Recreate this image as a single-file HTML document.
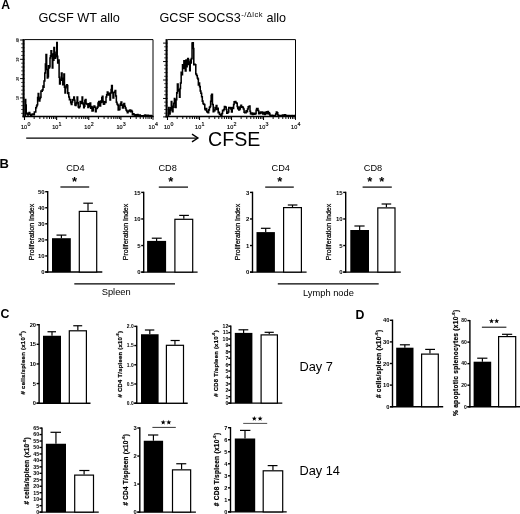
<!DOCTYPE html>
<html><head><meta charset="utf-8"><title>Figure</title>
<style>html,body{margin:0;padding:0;background:#fff;}svg{display:block;}text{font-family:"Liberation Sans",sans-serif;}</style></head>
<body>
<svg width="520" height="514" viewBox="0 0 520 514" font-family='"Liberation Sans", sans-serif' fill="#000">
<rect width="520" height="514" fill="#fff"/>
<defs><filter id="soft" x="0" y="0" width="100%" height="100%" filterUnits="userSpaceOnUse" color-interpolation-filters="sRGB"><feGaussianBlur stdDeviation="0.4"/></filter></defs>
<g filter="url(#soft)">
<rect width="520" height="514" fill="#fff"/>
<text x="1.2" y="9.2" font-size="12.2" font-weight="bold" text-anchor="start">A</text>
<text x="-0.6" y="168.1" font-size="13" font-weight="bold" text-anchor="start">B</text>
<text x="0.6" y="317.8" font-size="12.3" font-weight="bold" text-anchor="start">C</text>
<text x="355.4" y="319" font-size="12.3" font-weight="bold" text-anchor="start">D</text>
<text x="38.4" y="21.7" font-size="12.7" font-weight="normal" text-anchor="start">GCSF WT allo</text>
<text x="159.5" y="21.7" font-size="12.6">GCSF SOCS3<tspan dy="-5" dx="0.6" font-size="7.6" letter-spacing="0.45">-/&#916;lck</tspan><tspan dy="5" font-size="12.6"> allo</tspan></text>
<line x1="23.60" y1="39.10" x2="23.60" y2="117.30" stroke="#000" stroke-width="2.1"/>
<line x1="24.50" y1="39.60" x2="153.00" y2="39.60" stroke="#000" stroke-width="1.0"/>
<line x1="153.00" y1="39.60" x2="153.00" y2="117.00" stroke="#000" stroke-width="1.0"/>
<line x1="22.50" y1="116.50" x2="153.50" y2="116.50" stroke="#000" stroke-width="1.5"/>
<line x1="20.10" y1="40.00" x2="24.50" y2="40.00" stroke="#000" stroke-width="1.0"/>
<text x="19.30" y="40.20" font-size="3.6" font-weight="bold" text-anchor="middle" transform="rotate(-90 19.30 40.20)">40</text>
<line x1="21.10" y1="43.86" x2="24.50" y2="43.86" stroke="#000" stroke-width="0.7"/>
<line x1="21.10" y1="47.72" x2="24.50" y2="47.72" stroke="#000" stroke-width="0.7"/>
<line x1="21.10" y1="51.58" x2="24.50" y2="51.58" stroke="#000" stroke-width="0.7"/>
<line x1="21.10" y1="55.44" x2="24.50" y2="55.44" stroke="#000" stroke-width="0.7"/>
<line x1="20.10" y1="59.30" x2="24.50" y2="59.30" stroke="#000" stroke-width="1.0"/>
<text x="19.30" y="59.50" font-size="3.6" font-weight="bold" text-anchor="middle" transform="rotate(-90 19.30 59.50)">30</text>
<line x1="21.10" y1="63.16" x2="24.50" y2="63.16" stroke="#000" stroke-width="0.7"/>
<line x1="21.10" y1="67.02" x2="24.50" y2="67.02" stroke="#000" stroke-width="0.7"/>
<line x1="21.10" y1="70.88" x2="24.50" y2="70.88" stroke="#000" stroke-width="0.7"/>
<line x1="21.10" y1="74.74" x2="24.50" y2="74.74" stroke="#000" stroke-width="0.7"/>
<line x1="20.10" y1="78.60" x2="24.50" y2="78.60" stroke="#000" stroke-width="1.0"/>
<text x="19.30" y="78.80" font-size="3.6" font-weight="bold" text-anchor="middle" transform="rotate(-90 19.30 78.80)">20</text>
<line x1="21.10" y1="82.46" x2="24.50" y2="82.46" stroke="#000" stroke-width="0.7"/>
<line x1="21.10" y1="86.32" x2="24.50" y2="86.32" stroke="#000" stroke-width="0.7"/>
<line x1="21.10" y1="90.18" x2="24.50" y2="90.18" stroke="#000" stroke-width="0.7"/>
<line x1="21.10" y1="94.04" x2="24.50" y2="94.04" stroke="#000" stroke-width="0.7"/>
<line x1="20.10" y1="97.90" x2="24.50" y2="97.90" stroke="#000" stroke-width="1.0"/>
<text x="19.30" y="98.10" font-size="3.6" font-weight="bold" text-anchor="middle" transform="rotate(-90 19.30 98.10)">10</text>
<line x1="21.10" y1="101.76" x2="24.50" y2="101.76" stroke="#000" stroke-width="0.7"/>
<line x1="21.10" y1="105.62" x2="24.50" y2="105.62" stroke="#000" stroke-width="0.7"/>
<line x1="21.10" y1="109.48" x2="24.50" y2="109.48" stroke="#000" stroke-width="0.7"/>
<line x1="21.10" y1="113.34" x2="24.50" y2="113.34" stroke="#000" stroke-width="0.7"/>
<line x1="24.50" y1="116.50" x2="24.50" y2="120.00" stroke="#000" stroke-width="1.1"/>
<line x1="34.17" y1="116.50" x2="34.17" y2="119.00" stroke="#000" stroke-width="0.95"/>
<line x1="39.83" y1="116.50" x2="39.83" y2="119.00" stroke="#000" stroke-width="0.95"/>
<line x1="43.84" y1="116.50" x2="43.84" y2="119.00" stroke="#000" stroke-width="0.95"/>
<line x1="46.95" y1="116.50" x2="46.95" y2="119.00" stroke="#000" stroke-width="0.95"/>
<line x1="49.50" y1="116.50" x2="49.50" y2="119.00" stroke="#000" stroke-width="0.95"/>
<line x1="51.65" y1="116.50" x2="51.65" y2="119.00" stroke="#000" stroke-width="0.95"/>
<line x1="53.51" y1="116.50" x2="53.51" y2="119.00" stroke="#000" stroke-width="0.95"/>
<line x1="55.16" y1="116.50" x2="55.16" y2="119.00" stroke="#000" stroke-width="0.95"/>
<line x1="56.62" y1="116.50" x2="56.62" y2="120.00" stroke="#000" stroke-width="1.1"/>
<line x1="66.30" y1="116.50" x2="66.30" y2="119.00" stroke="#000" stroke-width="0.95"/>
<line x1="71.95" y1="116.50" x2="71.95" y2="119.00" stroke="#000" stroke-width="0.95"/>
<line x1="75.97" y1="116.50" x2="75.97" y2="119.00" stroke="#000" stroke-width="0.95"/>
<line x1="79.08" y1="116.50" x2="79.08" y2="119.00" stroke="#000" stroke-width="0.95"/>
<line x1="81.62" y1="116.50" x2="81.62" y2="119.00" stroke="#000" stroke-width="0.95"/>
<line x1="83.77" y1="116.50" x2="83.77" y2="119.00" stroke="#000" stroke-width="0.95"/>
<line x1="85.64" y1="116.50" x2="85.64" y2="119.00" stroke="#000" stroke-width="0.95"/>
<line x1="87.28" y1="116.50" x2="87.28" y2="119.00" stroke="#000" stroke-width="0.95"/>
<line x1="88.75" y1="116.50" x2="88.75" y2="120.00" stroke="#000" stroke-width="1.1"/>
<line x1="98.42" y1="116.50" x2="98.42" y2="119.00" stroke="#000" stroke-width="0.95"/>
<line x1="104.08" y1="116.50" x2="104.08" y2="119.00" stroke="#000" stroke-width="0.95"/>
<line x1="108.09" y1="116.50" x2="108.09" y2="119.00" stroke="#000" stroke-width="0.95"/>
<line x1="111.20" y1="116.50" x2="111.20" y2="119.00" stroke="#000" stroke-width="0.95"/>
<line x1="113.75" y1="116.50" x2="113.75" y2="119.00" stroke="#000" stroke-width="0.95"/>
<line x1="115.90" y1="116.50" x2="115.90" y2="119.00" stroke="#000" stroke-width="0.95"/>
<line x1="117.76" y1="116.50" x2="117.76" y2="119.00" stroke="#000" stroke-width="0.95"/>
<line x1="119.41" y1="116.50" x2="119.41" y2="119.00" stroke="#000" stroke-width="0.95"/>
<line x1="120.88" y1="116.50" x2="120.88" y2="120.00" stroke="#000" stroke-width="1.1"/>
<line x1="130.55" y1="116.50" x2="130.55" y2="119.00" stroke="#000" stroke-width="0.95"/>
<line x1="136.20" y1="116.50" x2="136.20" y2="119.00" stroke="#000" stroke-width="0.95"/>
<line x1="140.22" y1="116.50" x2="140.22" y2="119.00" stroke="#000" stroke-width="0.95"/>
<line x1="143.33" y1="116.50" x2="143.33" y2="119.00" stroke="#000" stroke-width="0.95"/>
<line x1="145.87" y1="116.50" x2="145.87" y2="119.00" stroke="#000" stroke-width="0.95"/>
<line x1="148.02" y1="116.50" x2="148.02" y2="119.00" stroke="#000" stroke-width="0.95"/>
<line x1="149.89" y1="116.50" x2="149.89" y2="119.00" stroke="#000" stroke-width="0.95"/>
<line x1="151.53" y1="116.50" x2="151.53" y2="119.00" stroke="#000" stroke-width="0.95"/>
<line x1="153.00" y1="116.50" x2="153.00" y2="119.90" stroke="#000" stroke-width="1.0"/>
<text x="21.00" y="129.00" font-size="5.5" stroke="#000" stroke-width="0.15">10<tspan dy="-2.7" dx="0.25" font-size="5.3">0</tspan></text>
<text x="52.23" y="129.00" font-size="5.5" stroke="#000" stroke-width="0.15">10<tspan dy="-2.7" dx="0.25" font-size="5.3">1</tspan></text>
<text x="84.35" y="129.00" font-size="5.5" stroke="#000" stroke-width="0.15">10<tspan dy="-2.7" dx="0.25" font-size="5.3">2</tspan></text>
<text x="116.47" y="129.00" font-size="5.5" stroke="#000" stroke-width="0.15">10<tspan dy="-2.7" dx="0.25" font-size="5.3">3</tspan></text>
<text x="148.60" y="129.00" font-size="5.5" stroke="#000" stroke-width="0.15">10<tspan dy="-2.7" dx="0.25" font-size="5.3">4</tspan></text>
<path d="M25.20,116.00H25.20V99.50H25.70V104.94H26.20V113.00H26.85V114.07H27.50V115.00H28.25V113.55H29.00V112.50H29.75V114.15H30.50V115.50H31.12V115.40H31.75V114.45H32.38V114.11H33.00V114.50H33.67V114.80H34.33V111.98H35.00V112.00H35.75V107.84H36.50V106.00H37.07V104.79H37.63V97.46H38.20V93.50H38.75V99.59H39.30V101.00H39.85V98.42H40.40V97.15H40.95V91.02H41.50V91.30H42.25V89.85H43.00V86.00H43.50V87.18H44.00V81.00H44.80V73.00H45.40V64.08H46.00V54.50H46.65V69.58H47.30V78.00H47.87V76.71H48.43V65.81H49.00V68.00H49.50V66.75H50.00V58.00H50.50V55.84H51.00V50.70H51.65V56.31H52.30V68.00H52.83V54.14H53.37V60.27H53.90V47.40H54.50V52.34H55.10V58.20H55.67V56.66H56.23V54.56H56.80V42.60H57.25V56.39H57.70V63.00H58.60V60.00H59.10V77.27H59.60V84.00H60.20V79.21H60.80V80.13H61.40V73.00H62.05V78.24H62.70V84.70H63.30V84.10H63.90V74.00H64.45V87.29H65.00V93.00H65.55V87.78H66.10V86.07H66.65V84.79H67.20V85.50H67.73V93.39H68.27V92.66H68.80V97.00H69.42V99.71H70.05V99.52H70.67V102.67H71.30V104.50H71.92V101.96H72.55V99.83H73.17V99.44H73.80V97.00H74.37V100.34H74.93V104.94H75.50V105.40H76.03V103.65H76.57V102.55H77.10V97.00H77.67V102.82H78.23V106.87H78.80V107.80H79.46V106.52H80.12V101.59H80.78V103.51H81.44V102.20H82.10V97.00H82.63V103.12H83.17V104.58H83.70V107.80H84.27V106.19H84.83V100.64H85.40V99.60H86.03V103.57H86.65V103.96H87.28V104.42H87.90V107.50H88.60V103.80H89.30V106.40H90.00V103.00H90.67V108.17H91.33V106.47H92.00V111.00H92.67V110.63H93.33V107.25H94.00V106.00H94.75V107.25H95.50V111.60H96.12V108.57H96.75V108.58H97.38V107.10H98.00V103.00H98.67V101.50H99.33V105.60H100.00V106.00H100.60V101.04H101.20V102.48H101.80V97.60H102.40V96.30H102.93V101.39H103.47V104.34H104.00V104.00H104.67V101.70H105.33V102.58H106.00V97.00H106.65V94.70H107.30V92.01H107.95V94.99H108.60V93.30H109.30V93.32H110.00V100.00H110.53V92.92H111.07V89.55H111.60V85.50H112.30V92.65H113.00V98.00H113.75V92.43H114.50V92.00H115.10V90.48H115.70V96.00H116.35V102.34H117.00V104.00H117.60V104.92H118.20V109.87H118.80V109.60H119.35V109.55H119.90V105.18H120.45V103.68H121.00V102.00H121.75V105.11H122.50V108.00H123.20V106.48H123.90V103.50H124.60V106.16H125.30V108.11H126.00V110.00H126.67V110.99H127.33V112.74H128.00V111.50H128.67V111.03H129.33V110.22H130.00V110.00H130.60V111.62H131.20V110.47H131.80V111.49H132.40V114.64H133.00V113.70H133.67V114.33H134.33V114.96H135.00V115.50H135.60V114.83H136.20V115.20H136.80V115.30H137.40V114.50H138.00V115.00H138.57V115.29H139.14V115.44H139.71V114.91H140.29V115.72H140.86V115.68H141.43V116.05H142.00V116.00H142.62V115.77H143.25V116.07H143.88V116.04H144.50V115.17H145.12V115.13H145.75V115.75H146.38V116.01H147.00V115.40H147.61V115.18H148.22V115.48H148.83V115.70H149.44V115.47H150.06V115.58H150.67V115.60H151.28V115.73H151.89V116.03H152.50V116.00" fill="none" stroke="#000" stroke-width="1.55" stroke-linejoin="miter" stroke-miterlimit="3"/>
<line x1="166.60" y1="39.10" x2="166.60" y2="117.30" stroke="#000" stroke-width="2.1"/>
<line x1="167.50" y1="39.60" x2="295.50" y2="39.60" stroke="#000" stroke-width="1.0"/>
<line x1="295.50" y1="39.60" x2="295.50" y2="117.00" stroke="#000" stroke-width="1.0"/>
<line x1="165.50" y1="116.50" x2="296.00" y2="116.50" stroke="#000" stroke-width="1.5"/>
<line x1="163.10" y1="43.10" x2="167.50" y2="43.10" stroke="#000" stroke-width="1.0"/>
<line x1="164.10" y1="46.79" x2="167.50" y2="46.79" stroke="#000" stroke-width="0.7"/>
<line x1="164.10" y1="50.48" x2="167.50" y2="50.48" stroke="#000" stroke-width="0.7"/>
<line x1="164.10" y1="54.17" x2="167.50" y2="54.17" stroke="#000" stroke-width="0.7"/>
<line x1="164.10" y1="57.86" x2="167.50" y2="57.86" stroke="#000" stroke-width="0.7"/>
<line x1="163.10" y1="61.55" x2="167.50" y2="61.55" stroke="#000" stroke-width="1.0"/>
<line x1="164.10" y1="65.24" x2="167.50" y2="65.24" stroke="#000" stroke-width="0.7"/>
<line x1="164.10" y1="68.93" x2="167.50" y2="68.93" stroke="#000" stroke-width="0.7"/>
<line x1="164.10" y1="72.62" x2="167.50" y2="72.62" stroke="#000" stroke-width="0.7"/>
<line x1="164.10" y1="76.31" x2="167.50" y2="76.31" stroke="#000" stroke-width="0.7"/>
<line x1="163.10" y1="80.00" x2="167.50" y2="80.00" stroke="#000" stroke-width="1.0"/>
<line x1="164.10" y1="83.69" x2="167.50" y2="83.69" stroke="#000" stroke-width="0.7"/>
<line x1="164.10" y1="87.38" x2="167.50" y2="87.38" stroke="#000" stroke-width="0.7"/>
<line x1="164.10" y1="91.07" x2="167.50" y2="91.07" stroke="#000" stroke-width="0.7"/>
<line x1="164.10" y1="94.76" x2="167.50" y2="94.76" stroke="#000" stroke-width="0.7"/>
<line x1="163.10" y1="98.45" x2="167.50" y2="98.45" stroke="#000" stroke-width="1.0"/>
<line x1="164.10" y1="102.14" x2="167.50" y2="102.14" stroke="#000" stroke-width="0.7"/>
<line x1="164.10" y1="105.83" x2="167.50" y2="105.83" stroke="#000" stroke-width="0.7"/>
<line x1="164.10" y1="109.52" x2="167.50" y2="109.52" stroke="#000" stroke-width="0.7"/>
<line x1="164.10" y1="113.21" x2="167.50" y2="113.21" stroke="#000" stroke-width="0.7"/>
<line x1="163.10" y1="116.90" x2="167.50" y2="116.90" stroke="#000" stroke-width="1.0"/>
<line x1="167.50" y1="116.50" x2="167.50" y2="120.00" stroke="#000" stroke-width="1.1"/>
<line x1="177.13" y1="116.50" x2="177.13" y2="119.00" stroke="#000" stroke-width="0.95"/>
<line x1="182.77" y1="116.50" x2="182.77" y2="119.00" stroke="#000" stroke-width="0.95"/>
<line x1="186.77" y1="116.50" x2="186.77" y2="119.00" stroke="#000" stroke-width="0.95"/>
<line x1="189.87" y1="116.50" x2="189.87" y2="119.00" stroke="#000" stroke-width="0.95"/>
<line x1="192.40" y1="116.50" x2="192.40" y2="119.00" stroke="#000" stroke-width="0.95"/>
<line x1="194.54" y1="116.50" x2="194.54" y2="119.00" stroke="#000" stroke-width="0.95"/>
<line x1="196.40" y1="116.50" x2="196.40" y2="119.00" stroke="#000" stroke-width="0.95"/>
<line x1="198.04" y1="116.50" x2="198.04" y2="119.00" stroke="#000" stroke-width="0.95"/>
<line x1="199.50" y1="116.50" x2="199.50" y2="120.00" stroke="#000" stroke-width="1.1"/>
<line x1="209.13" y1="116.50" x2="209.13" y2="119.00" stroke="#000" stroke-width="0.95"/>
<line x1="214.77" y1="116.50" x2="214.77" y2="119.00" stroke="#000" stroke-width="0.95"/>
<line x1="218.77" y1="116.50" x2="218.77" y2="119.00" stroke="#000" stroke-width="0.95"/>
<line x1="221.87" y1="116.50" x2="221.87" y2="119.00" stroke="#000" stroke-width="0.95"/>
<line x1="224.40" y1="116.50" x2="224.40" y2="119.00" stroke="#000" stroke-width="0.95"/>
<line x1="226.54" y1="116.50" x2="226.54" y2="119.00" stroke="#000" stroke-width="0.95"/>
<line x1="228.40" y1="116.50" x2="228.40" y2="119.00" stroke="#000" stroke-width="0.95"/>
<line x1="230.04" y1="116.50" x2="230.04" y2="119.00" stroke="#000" stroke-width="0.95"/>
<line x1="231.50" y1="116.50" x2="231.50" y2="120.00" stroke="#000" stroke-width="1.1"/>
<line x1="241.13" y1="116.50" x2="241.13" y2="119.00" stroke="#000" stroke-width="0.95"/>
<line x1="246.77" y1="116.50" x2="246.77" y2="119.00" stroke="#000" stroke-width="0.95"/>
<line x1="250.77" y1="116.50" x2="250.77" y2="119.00" stroke="#000" stroke-width="0.95"/>
<line x1="253.87" y1="116.50" x2="253.87" y2="119.00" stroke="#000" stroke-width="0.95"/>
<line x1="256.40" y1="116.50" x2="256.40" y2="119.00" stroke="#000" stroke-width="0.95"/>
<line x1="258.54" y1="116.50" x2="258.54" y2="119.00" stroke="#000" stroke-width="0.95"/>
<line x1="260.40" y1="116.50" x2="260.40" y2="119.00" stroke="#000" stroke-width="0.95"/>
<line x1="262.04" y1="116.50" x2="262.04" y2="119.00" stroke="#000" stroke-width="0.95"/>
<line x1="263.50" y1="116.50" x2="263.50" y2="120.00" stroke="#000" stroke-width="1.1"/>
<line x1="273.13" y1="116.50" x2="273.13" y2="119.00" stroke="#000" stroke-width="0.95"/>
<line x1="278.77" y1="116.50" x2="278.77" y2="119.00" stroke="#000" stroke-width="0.95"/>
<line x1="282.77" y1="116.50" x2="282.77" y2="119.00" stroke="#000" stroke-width="0.95"/>
<line x1="285.87" y1="116.50" x2="285.87" y2="119.00" stroke="#000" stroke-width="0.95"/>
<line x1="288.40" y1="116.50" x2="288.40" y2="119.00" stroke="#000" stroke-width="0.95"/>
<line x1="290.54" y1="116.50" x2="290.54" y2="119.00" stroke="#000" stroke-width="0.95"/>
<line x1="292.40" y1="116.50" x2="292.40" y2="119.00" stroke="#000" stroke-width="0.95"/>
<line x1="294.04" y1="116.50" x2="294.04" y2="119.00" stroke="#000" stroke-width="0.95"/>
<line x1="295.50" y1="116.50" x2="295.50" y2="119.90" stroke="#000" stroke-width="1.0"/>
<text x="164.00" y="129.00" font-size="5.5" stroke="#000" stroke-width="0.15">10<tspan dy="-2.7" dx="0.25" font-size="5.3">0</tspan></text>
<text x="195.10" y="129.00" font-size="5.5" stroke="#000" stroke-width="0.15">10<tspan dy="-2.7" dx="0.25" font-size="5.3">1</tspan></text>
<text x="227.10" y="129.00" font-size="5.5" stroke="#000" stroke-width="0.15">10<tspan dy="-2.7" dx="0.25" font-size="5.3">2</tspan></text>
<text x="259.10" y="129.00" font-size="5.5" stroke="#000" stroke-width="0.15">10<tspan dy="-2.7" dx="0.25" font-size="5.3">3</tspan></text>
<text x="291.10" y="129.00" font-size="5.5" stroke="#000" stroke-width="0.15">10<tspan dy="-2.7" dx="0.25" font-size="5.3">4</tspan></text>
<path d="M168.30,116.00H168.60V107.50H169.05V110.56H169.50V114.00H170.10V110.05H170.70V107.78H171.30V101.40H171.80V106.33H172.30V111.60H173.00V107.24H173.70V103.30H174.40V98.40H174.90V101.15H175.40V107.50H176.07V99.74H176.73V92.89H177.40V84.00H178.10V91.04H178.80V89.65H179.50V97.30H180.00V88.47H180.50V83.00H181.17V72.21H181.83V74.76H182.50V64.70H183.20V68.49H183.90V60.65H184.60V68.00H185.30V70.89H186.00V60.00H186.57V66.63H187.13V61.43H187.70V58.60H188.37V64.35H189.03V62.05H189.70V70.80H190.23V60.10H190.77V63.08H191.30V58.60H192.05V43.07H192.80V42.70H193.30V48.57H193.80V64.70H194.47V64.29H195.13V64.83H195.80V73.90H196.55V75.53H197.30V78.00H197.83V79.02H198.37V84.92H198.90V83.00H199.57V86.61H200.23V91.07H200.90V93.30H201.60V96.70H202.30V101.13H203.00V103.50H203.60V104.29H204.20V104.40H204.80V109.01H205.40V109.91H206.00V108.60H206.67V111.39H207.33V112.14H208.00V112.70H208.70V109.89H209.40V107.36H210.10V106.50H210.63V101.20H211.17V95.48H211.70V94.30H212.45V104.47H213.20V111.60H213.80V109.97H214.40V110.67H215.00V107.42H215.60V108.96H216.20V105.50H216.87V109.51H217.53V108.25H218.20V112.70H218.82V112.26H219.44V114.45H220.06V114.34H220.68V115.55H221.30V115.50H221.92V113.54H222.54V110.30H223.16V110.64H223.78V109.56H224.40V106.50H225.00V106.67H225.60V107.17H226.20V109.53H226.80V113.24H227.40V112.70H228.10V111.99H228.80V107.58H229.50V107.50H230.17V107.89H230.83V108.88H231.50V112.00H232.20V107.62H232.90V108.43H233.60V104.50H234.13V101.66H234.67V102.78H235.20V101.40H235.87V102.80H236.53V103.16H237.20V106.50H237.73V108.75H238.27V107.20H238.80V110.00H239.55V108.90H240.30V106.50H240.92V105.15H241.54V107.13H242.16V106.68H242.78V107.47H243.40V109.00H244.07V112.17H244.73V112.63H245.40V112.70H246.10V110.71H246.80V111.82H247.50V109.00H248.17V106.67H248.83V106.49H249.50V106.00H250.00V111.34H250.50V113.70H251.14V113.92H251.78V113.08H252.41V114.46H253.05V113.26H253.69V113.33H254.32V114.12H254.96V113.43H255.60V113.70H256.10V110.35H256.60V108.60H257.30V108.55H258.00V110.47H258.70V113.70H259.25V113.70H259.80V112.24H260.35V113.21H260.90V112.10H261.45V112.11H262.00V112.00H262.63V113.96H263.27V112.51H263.90V113.11H264.53V114.41H265.17V112.33H265.80V113.70H266.50V111.79H267.20V113.79H267.90V111.60H268.42V113.72H268.95V112.70H269.48V114.10H270.00V115.50H270.62V115.78H271.25V116.01H271.88V115.15H272.50V116.02H273.12V115.94H273.75V115.62H274.38V115.41H275.00V115.50H275.67V114.03H276.33V112.08H277.00V112.70H277.75V115.00H278.50V116.00H279.11V115.64H279.72V116.07H280.33V115.50H280.94V116.05H281.56V115.72H282.17V115.30H282.78V115.08H283.39V115.64H284.00V115.30H284.60V114.86H285.20V115.12H285.80V115.58H286.40V115.98H287.00V115.78H287.60V115.48H288.20V116.20H288.80V115.54H289.40V115.42H290.00V116.00H290.62V115.76H291.25V115.94H291.88V115.54H292.50V115.66H293.12V115.86H293.75V116.08H294.38V115.62H295.00V116.00" fill="none" stroke="#000" stroke-width="1.55" stroke-linejoin="miter" stroke-miterlimit="3"/>
<line x1="26.20" y1="138.10" x2="197.00" y2="138.10" stroke="#000" stroke-width="1.4"/>
<path d="M192.0,134.1 L197.9,138.0 L192.0,141.9" fill="none" stroke="#000" stroke-width="1.4"/>
<text x="208.1" y="145.8" font-size="19.6" font-weight="normal" text-anchor="start">CFSE</text>
<line x1="47.70" y1="191.00" x2="47.70" y2="272.70" stroke="#000" stroke-width="1.4"/>
<line x1="45.20" y1="272.00" x2="102.30" y2="272.00" stroke="#000" stroke-width="1.4"/>
<line x1="45.20" y1="272.00" x2="47.70" y2="272.00" stroke="#000" stroke-width="1.4"/>
<text x="44.6" y="274.16" font-size="6.0" font-weight="bold" text-anchor="end">0</text>
<line x1="45.20" y1="255.94" x2="47.70" y2="255.94" stroke="#000" stroke-width="1.4"/>
<text x="44.6" y="258.1" font-size="6.0" font-weight="bold" text-anchor="end">10</text>
<line x1="45.20" y1="239.88" x2="47.70" y2="239.88" stroke="#000" stroke-width="1.4"/>
<text x="44.6" y="242.04" font-size="6.0" font-weight="bold" text-anchor="end">20</text>
<line x1="45.20" y1="223.82" x2="47.70" y2="223.82" stroke="#000" stroke-width="1.4"/>
<text x="44.6" y="225.98" font-size="6.0" font-weight="bold" text-anchor="end">30</text>
<line x1="45.20" y1="207.76" x2="47.70" y2="207.76" stroke="#000" stroke-width="1.4"/>
<text x="44.6" y="209.92" font-size="6.0" font-weight="bold" text-anchor="end">40</text>
<line x1="45.20" y1="191.70" x2="47.70" y2="191.70" stroke="#000" stroke-width="1.4"/>
<text x="44.6" y="193.86" font-size="6.0" font-weight="bold" text-anchor="end">50</text>
<line x1="61.40" y1="235.10" x2="61.40" y2="238.20" stroke="#000" stroke-width="1.2"/>
<line x1="56.50" y1="235.10" x2="66.40" y2="235.10" stroke="#000" stroke-width="1.2"/>
<rect x="52.00" y="238.20" width="18.80" height="33.80" fill="#000"/>
<line x1="88.00" y1="203.20" x2="88.00" y2="210.80" stroke="#000" stroke-width="1.2"/>
<line x1="83.30" y1="203.20" x2="92.90" y2="203.20" stroke="#000" stroke-width="1.2"/>
<rect x="79.30" y="211.40" width="17.40" height="60.60" fill="#fff" stroke="#000" stroke-width="1.2"/>
<text x="33.7" y="232" font-size="7" font-weight="normal" text-anchor="middle" transform="rotate(-90 33.7 232)" stroke="#000" stroke-width="0.22">Proliferation Index</text>
<line x1="60.40" y1="187.00" x2="89.20" y2="187.00" stroke="#000" stroke-width="1.2"/>
<text x="74.6" y="186.2" font-size="13" font-weight="bold" text-anchor="middle">*</text>
<text x="75.4" y="170.8" font-size="9.2" font-weight="normal" text-anchor="middle">CD4</text>
<line x1="143.70" y1="191.70" x2="143.70" y2="272.80" stroke="#000" stroke-width="1.4"/>
<line x1="141.20" y1="272.10" x2="197.60" y2="272.10" stroke="#000" stroke-width="1.4"/>
<line x1="141.20" y1="272.10" x2="143.70" y2="272.10" stroke="#000" stroke-width="1.4"/>
<text x="140.6" y="274.26" font-size="6.0" font-weight="bold" text-anchor="end">0</text>
<line x1="141.20" y1="245.53" x2="143.70" y2="245.53" stroke="#000" stroke-width="1.4"/>
<text x="140.6" y="247.69" font-size="6.0" font-weight="bold" text-anchor="end">5</text>
<line x1="141.20" y1="218.97" x2="143.70" y2="218.97" stroke="#000" stroke-width="1.4"/>
<text x="140.6" y="221.13" font-size="6.0" font-weight="bold" text-anchor="end">10</text>
<line x1="141.20" y1="192.40" x2="143.70" y2="192.40" stroke="#000" stroke-width="1.4"/>
<text x="140.6" y="194.56" font-size="6.0" font-weight="bold" text-anchor="end">15</text>
<line x1="156.60" y1="238.20" x2="156.60" y2="240.90" stroke="#000" stroke-width="1.2"/>
<line x1="151.80" y1="238.20" x2="161.70" y2="238.20" stroke="#000" stroke-width="1.2"/>
<rect x="147.10" y="240.90" width="19.00" height="31.20" fill="#000"/>
<line x1="183.80" y1="215.40" x2="183.80" y2="218.70" stroke="#000" stroke-width="1.2"/>
<line x1="179.20" y1="215.40" x2="188.90" y2="215.40" stroke="#000" stroke-width="1.2"/>
<rect x="174.90" y="219.30" width="17.80" height="52.80" fill="#fff" stroke="#000" stroke-width="1.2"/>
<text x="127.8" y="232" font-size="7" font-weight="normal" text-anchor="middle" transform="rotate(-90 127.8 232)" stroke="#000" stroke-width="0.22">Proliferation Index</text>
<line x1="158.80" y1="187.10" x2="188.00" y2="187.10" stroke="#000" stroke-width="1.2"/>
<text x="170.7" y="186.2" font-size="13" font-weight="bold" text-anchor="middle">*</text>
<text x="167.6" y="170.8" font-size="9.2" font-weight="normal" text-anchor="middle">CD8</text>
<line x1="252.50" y1="191.70" x2="252.50" y2="272.80" stroke="#000" stroke-width="1.4"/>
<line x1="250.00" y1="272.10" x2="306.60" y2="272.10" stroke="#000" stroke-width="1.4"/>
<line x1="250.00" y1="272.10" x2="252.50" y2="272.10" stroke="#000" stroke-width="1.4"/>
<text x="249.4" y="274.26" font-size="6.0" font-weight="bold" text-anchor="end">0</text>
<line x1="250.00" y1="245.53" x2="252.50" y2="245.53" stroke="#000" stroke-width="1.4"/>
<text x="249.4" y="247.69" font-size="6.0" font-weight="bold" text-anchor="end">1</text>
<line x1="250.00" y1="218.97" x2="252.50" y2="218.97" stroke="#000" stroke-width="1.4"/>
<text x="249.4" y="221.13" font-size="6.0" font-weight="bold" text-anchor="end">2</text>
<line x1="250.00" y1="192.40" x2="252.50" y2="192.40" stroke="#000" stroke-width="1.4"/>
<text x="249.4" y="194.56" font-size="6.0" font-weight="bold" text-anchor="end">3</text>
<line x1="265.70" y1="228.30" x2="265.70" y2="232.10" stroke="#000" stroke-width="1.2"/>
<line x1="260.90" y1="228.30" x2="270.50" y2="228.30" stroke="#000" stroke-width="1.2"/>
<rect x="256.50" y="232.10" width="18.40" height="40.00" fill="#000"/>
<line x1="292.50" y1="205.00" x2="292.50" y2="207.00" stroke="#000" stroke-width="1.2"/>
<line x1="287.80" y1="205.00" x2="297.40" y2="205.00" stroke="#000" stroke-width="1.2"/>
<rect x="283.60" y="207.60" width="17.80" height="64.50" fill="#fff" stroke="#000" stroke-width="1.2"/>
<text x="239.6" y="232" font-size="7" font-weight="normal" text-anchor="middle" transform="rotate(-90 239.6 232)" stroke="#000" stroke-width="0.22">Proliferation Index</text>
<line x1="265.20" y1="187.10" x2="293.80" y2="187.10" stroke="#000" stroke-width="1.2"/>
<text x="279.9" y="186.2" font-size="13" font-weight="bold" text-anchor="middle">*</text>
<text x="280.8" y="170.8" font-size="9.2" font-weight="normal" text-anchor="middle">CD4</text>
<line x1="345.70" y1="191.70" x2="345.70" y2="272.80" stroke="#000" stroke-width="1.4"/>
<line x1="343.20" y1="272.10" x2="400.80" y2="272.10" stroke="#000" stroke-width="1.4"/>
<line x1="343.20" y1="272.10" x2="345.70" y2="272.10" stroke="#000" stroke-width="1.4"/>
<text x="342.59999999999997" y="274.26" font-size="6.0" font-weight="bold" text-anchor="end">0</text>
<line x1="343.20" y1="245.53" x2="345.70" y2="245.53" stroke="#000" stroke-width="1.4"/>
<text x="342.59999999999997" y="247.69" font-size="6.0" font-weight="bold" text-anchor="end">5</text>
<line x1="343.20" y1="218.97" x2="345.70" y2="218.97" stroke="#000" stroke-width="1.4"/>
<text x="342.59999999999997" y="221.13" font-size="6.0" font-weight="bold" text-anchor="end">10</text>
<line x1="343.20" y1="192.40" x2="345.70" y2="192.40" stroke="#000" stroke-width="1.4"/>
<text x="342.59999999999997" y="194.56" font-size="6.0" font-weight="bold" text-anchor="end">15</text>
<line x1="359.65" y1="226.00" x2="359.65" y2="230.00" stroke="#000" stroke-width="1.2"/>
<line x1="354.40" y1="226.00" x2="364.60" y2="226.00" stroke="#000" stroke-width="1.2"/>
<rect x="350.30" y="230.00" width="18.70" height="42.10" fill="#000"/>
<line x1="386.40" y1="204.00" x2="386.40" y2="207.30" stroke="#000" stroke-width="1.2"/>
<line x1="381.60" y1="204.00" x2="391.20" y2="204.00" stroke="#000" stroke-width="1.2"/>
<rect x="377.80" y="207.90" width="17.20" height="64.20" fill="#fff" stroke="#000" stroke-width="1.2"/>
<text x="330.9" y="232" font-size="7" font-weight="normal" text-anchor="middle" transform="rotate(-90 330.9 232)" stroke="#000" stroke-width="0.22">Proliferation Index</text>
<line x1="362.60" y1="187.10" x2="391.80" y2="187.10" stroke="#000" stroke-width="1.2"/>
<text x="369.9" y="186.2" font-size="13" font-weight="bold" text-anchor="middle">*</text>
<text x="381.9" y="186.2" font-size="13" font-weight="bold" text-anchor="middle">*</text>
<text x="373.0" y="170.8" font-size="9.2" font-weight="normal" text-anchor="middle">CD8</text>
<line x1="74.30" y1="283.90" x2="175.00" y2="283.90" stroke="#000" stroke-width="1.4"/>
<text x="116.2" y="295.4" font-size="9.3" font-weight="normal" text-anchor="middle">Spleen</text>
<line x1="277.80" y1="283.90" x2="378.70" y2="283.90" stroke="#000" stroke-width="1.4"/>
<text x="303.0" y="295.5" font-size="9.3" font-weight="normal" text-anchor="start">Lymph node</text>
<line x1="39.10" y1="324.00" x2="39.10" y2="403.90" stroke="#000" stroke-width="1.4"/>
<line x1="36.60" y1="403.20" x2="90.50" y2="403.20" stroke="#000" stroke-width="1.4"/>
<line x1="36.60" y1="403.20" x2="39.10" y2="403.20" stroke="#000" stroke-width="1.4"/>
<text x="36.0" y="405.25" font-size="5.7" font-weight="bold" text-anchor="end">0</text>
<line x1="36.60" y1="383.57" x2="39.10" y2="383.57" stroke="#000" stroke-width="1.4"/>
<text x="36.0" y="385.63" font-size="5.7" font-weight="bold" text-anchor="end">5</text>
<line x1="36.60" y1="363.95" x2="39.10" y2="363.95" stroke="#000" stroke-width="1.4"/>
<text x="36.0" y="366.0" font-size="5.7" font-weight="bold" text-anchor="end">10</text>
<line x1="36.60" y1="344.32" x2="39.10" y2="344.32" stroke="#000" stroke-width="1.4"/>
<text x="36.0" y="346.38" font-size="5.7" font-weight="bold" text-anchor="end">15</text>
<line x1="36.60" y1="324.70" x2="39.10" y2="324.70" stroke="#000" stroke-width="1.4"/>
<text x="36.0" y="326.75" font-size="5.7" font-weight="bold" text-anchor="end">20</text>
<line x1="52.00" y1="331.75" x2="52.00" y2="335.75" stroke="#000" stroke-width="1.2"/>
<line x1="47.50" y1="331.75" x2="56.00" y2="331.75" stroke="#000" stroke-width="1.2"/>
<rect x="43.00" y="335.75" width="18.00" height="67.45" fill="#000"/>
<line x1="77.85" y1="325.75" x2="77.85" y2="330.20" stroke="#000" stroke-width="1.2"/>
<line x1="73.25" y1="325.75" x2="82.20" y2="325.75" stroke="#000" stroke-width="1.2"/>
<rect x="69.30" y="330.80" width="17.10" height="72.40" fill="#fff" stroke="#000" stroke-width="1.2"/>
<text x="25.3" y="394.4" font-size="6.04" font-weight="bold" letter-spacing="0.232" stroke="#000" stroke-width="0.2" transform="rotate(-90 25.3 394.4)"># cells/spleen (x10<tspan dy="-3.02" font-size="3.99">-6</tspan><tspan dy="3.02" font-size="6.04">)</tspan></text>
<line x1="136.75" y1="325.65" x2="136.75" y2="403.90" stroke="#000" stroke-width="1.4"/>
<line x1="134.25" y1="403.20" x2="187.70" y2="403.20" stroke="#000" stroke-width="1.4"/>
<line x1="134.25" y1="403.20" x2="136.75" y2="403.20" stroke="#000" stroke-width="1.4"/>
<text x="133.65" y="404.96" font-size="4.9" font-weight="bold" text-anchor="end">0.0</text>
<line x1="134.25" y1="383.99" x2="136.75" y2="383.99" stroke="#000" stroke-width="1.4"/>
<text x="133.65" y="385.75" font-size="4.9" font-weight="bold" text-anchor="end">0.5</text>
<line x1="134.25" y1="364.77" x2="136.75" y2="364.77" stroke="#000" stroke-width="1.4"/>
<text x="133.65" y="366.54" font-size="4.9" font-weight="bold" text-anchor="end">1.0</text>
<line x1="134.25" y1="345.56" x2="136.75" y2="345.56" stroke="#000" stroke-width="1.4"/>
<text x="133.65" y="347.33" font-size="4.9" font-weight="bold" text-anchor="end">1.5</text>
<line x1="134.25" y1="326.35" x2="136.75" y2="326.35" stroke="#000" stroke-width="1.4"/>
<text x="133.65" y="328.11" font-size="4.9" font-weight="bold" text-anchor="end">2.0</text>
<line x1="149.80" y1="330.00" x2="149.80" y2="334.25" stroke="#000" stroke-width="1.2"/>
<line x1="144.90" y1="330.00" x2="154.30" y2="330.00" stroke="#000" stroke-width="1.2"/>
<rect x="141.00" y="334.25" width="17.60" height="68.95" fill="#000"/>
<line x1="174.95" y1="340.50" x2="174.95" y2="344.70" stroke="#000" stroke-width="1.2"/>
<line x1="170.60" y1="340.50" x2="179.70" y2="340.50" stroke="#000" stroke-width="1.2"/>
<rect x="166.40" y="345.30" width="17.10" height="57.90" fill="#fff" stroke="#000" stroke-width="1.2"/>
<text x="121.7" y="397.4" font-size="5.92" font-weight="bold" letter-spacing="0.243" stroke="#000" stroke-width="0.2" transform="rotate(-90 121.7 397.4)"># CD4 T/spleen (x10<tspan dy="-2.96" font-size="3.91">-6</tspan><tspan dy="2.96" font-size="5.92">)</tspan></text>
<line x1="230.80" y1="325.50" x2="230.80" y2="403.80" stroke="#000" stroke-width="1.4"/>
<line x1="228.30" y1="403.10" x2="282.30" y2="403.10" stroke="#000" stroke-width="1.4"/>
<line x1="228.30" y1="403.10" x2="230.80" y2="403.10" stroke="#000" stroke-width="1.4"/>
<text x="228.3" y="404.97" font-size="5.2" font-weight="bold" text-anchor="end">0</text>
<line x1="228.30" y1="396.69" x2="230.80" y2="396.69" stroke="#000" stroke-width="1.4"/>
<text x="228.3" y="398.56" font-size="5.2" font-weight="bold" text-anchor="end">1</text>
<line x1="228.30" y1="390.28" x2="230.80" y2="390.28" stroke="#000" stroke-width="1.4"/>
<text x="228.3" y="392.16" font-size="5.2" font-weight="bold" text-anchor="end">2</text>
<line x1="228.30" y1="383.88" x2="230.80" y2="383.88" stroke="#000" stroke-width="1.4"/>
<text x="228.3" y="385.75" font-size="5.2" font-weight="bold" text-anchor="end">3</text>
<line x1="228.30" y1="377.47" x2="230.80" y2="377.47" stroke="#000" stroke-width="1.4"/>
<text x="228.3" y="379.34" font-size="5.2" font-weight="bold" text-anchor="end">4</text>
<line x1="228.30" y1="371.06" x2="230.80" y2="371.06" stroke="#000" stroke-width="1.4"/>
<text x="228.3" y="372.93" font-size="5.2" font-weight="bold" text-anchor="end">5</text>
<line x1="228.30" y1="364.65" x2="230.80" y2="364.65" stroke="#000" stroke-width="1.4"/>
<text x="228.3" y="366.52" font-size="5.2" font-weight="bold" text-anchor="end">6</text>
<line x1="228.30" y1="358.24" x2="230.80" y2="358.24" stroke="#000" stroke-width="1.4"/>
<text x="228.3" y="360.11" font-size="5.2" font-weight="bold" text-anchor="end">7</text>
<line x1="228.30" y1="351.83" x2="230.80" y2="351.83" stroke="#000" stroke-width="1.4"/>
<text x="228.3" y="353.71" font-size="5.2" font-weight="bold" text-anchor="end">8</text>
<line x1="228.30" y1="345.43" x2="230.80" y2="345.43" stroke="#000" stroke-width="1.4"/>
<text x="228.3" y="347.3" font-size="5.2" font-weight="bold" text-anchor="end">9</text>
<line x1="228.30" y1="339.02" x2="230.80" y2="339.02" stroke="#000" stroke-width="1.4"/>
<text x="228.3" y="340.89" font-size="5.2" font-weight="bold" text-anchor="end">10</text>
<line x1="228.30" y1="332.61" x2="230.80" y2="332.61" stroke="#000" stroke-width="1.4"/>
<text x="228.3" y="334.48" font-size="5.2" font-weight="bold" text-anchor="end">11</text>
<line x1="228.30" y1="326.20" x2="230.80" y2="326.20" stroke="#000" stroke-width="1.4"/>
<text x="228.3" y="328.07" font-size="5.2" font-weight="bold" text-anchor="end">12</text>
<line x1="243.60" y1="329.80" x2="243.60" y2="332.90" stroke="#000" stroke-width="1.2"/>
<line x1="238.50" y1="329.80" x2="248.30" y2="329.80" stroke="#000" stroke-width="1.2"/>
<rect x="234.80" y="332.90" width="17.60" height="70.20" fill="#000"/>
<line x1="269.25" y1="332.30" x2="269.25" y2="334.30" stroke="#000" stroke-width="1.2"/>
<line x1="264.60" y1="332.30" x2="273.80" y2="332.30" stroke="#000" stroke-width="1.2"/>
<rect x="261.10" y="334.90" width="16.30" height="68.20" fill="#fff" stroke="#000" stroke-width="1.2"/>
<text x="217.8" y="396.7" font-size="5.91" font-weight="bold" letter-spacing="0.242" stroke="#000" stroke-width="0.2" transform="rotate(-90 217.8 396.7)"># CD8 T/spleen (x10<tspan dy="-2.95" font-size="3.90">-6</tspan><tspan dy="2.95" font-size="5.91">)</tspan></text>
<text x="299.4" y="370.8" font-size="12.8" font-weight="normal" text-anchor="start">Day 7</text>
<line x1="392.50" y1="319.60" x2="392.50" y2="407.40" stroke="#000" stroke-width="1.4"/>
<line x1="390.00" y1="406.70" x2="443.20" y2="406.70" stroke="#000" stroke-width="1.4"/>
<line x1="390.00" y1="406.70" x2="392.50" y2="406.70" stroke="#000" stroke-width="1.4"/>
<text x="389.4" y="408.79" font-size="5.8" font-weight="bold" text-anchor="end">0</text>
<line x1="390.00" y1="385.10" x2="392.50" y2="385.10" stroke="#000" stroke-width="1.4"/>
<text x="389.4" y="387.19" font-size="5.8" font-weight="bold" text-anchor="end">10</text>
<line x1="390.00" y1="363.50" x2="392.50" y2="363.50" stroke="#000" stroke-width="1.4"/>
<text x="389.4" y="365.59" font-size="5.8" font-weight="bold" text-anchor="end">20</text>
<line x1="390.00" y1="341.90" x2="392.50" y2="341.90" stroke="#000" stroke-width="1.4"/>
<text x="389.4" y="343.99" font-size="5.8" font-weight="bold" text-anchor="end">30</text>
<line x1="390.00" y1="320.30" x2="392.50" y2="320.30" stroke="#000" stroke-width="1.4"/>
<text x="389.4" y="322.39" font-size="5.8" font-weight="bold" text-anchor="end">40</text>
<line x1="404.85" y1="344.80" x2="404.85" y2="347.70" stroke="#000" stroke-width="1.2"/>
<line x1="399.90" y1="344.80" x2="409.90" y2="344.80" stroke="#000" stroke-width="1.2"/>
<rect x="396.20" y="347.70" width="17.30" height="59.00" fill="#000"/>
<line x1="429.95" y1="349.40" x2="429.95" y2="353.50" stroke="#000" stroke-width="1.2"/>
<line x1="425.20" y1="349.40" x2="435.00" y2="349.40" stroke="#000" stroke-width="1.2"/>
<rect x="421.60" y="354.10" width="16.70" height="52.60" fill="#fff" stroke="#000" stroke-width="1.2"/>
<text x="380.8" y="398.1" font-size="6.49" font-weight="bold" letter-spacing="0.249" stroke="#000" stroke-width="0.2" transform="rotate(-90 380.8 398.1)"># cells/spleen (x10<tspan dy="-3.25" font-size="4.29">-6</tspan><tspan dy="3.25" font-size="6.49">)</tspan></text>
<line x1="469.90" y1="319.90" x2="469.90" y2="407.40" stroke="#000" stroke-width="1.4"/>
<line x1="467.40" y1="406.70" x2="520.00" y2="406.70" stroke="#000" stroke-width="1.4"/>
<line x1="467.40" y1="406.70" x2="469.90" y2="406.70" stroke="#000" stroke-width="1.4"/>
<text x="466.79999999999995" y="408.5" font-size="5.0" font-weight="bold" text-anchor="end">0</text>
<line x1="467.40" y1="385.18" x2="469.90" y2="385.18" stroke="#000" stroke-width="1.4"/>
<text x="466.79999999999995" y="386.98" font-size="5.0" font-weight="bold" text-anchor="end">20</text>
<line x1="467.40" y1="363.65" x2="469.90" y2="363.65" stroke="#000" stroke-width="1.4"/>
<text x="466.79999999999995" y="365.45" font-size="5.0" font-weight="bold" text-anchor="end">40</text>
<line x1="467.40" y1="342.12" x2="469.90" y2="342.12" stroke="#000" stroke-width="1.4"/>
<text x="466.79999999999995" y="343.93" font-size="5.0" font-weight="bold" text-anchor="end">60</text>
<line x1="467.40" y1="320.60" x2="469.90" y2="320.60" stroke="#000" stroke-width="1.4"/>
<text x="466.79999999999995" y="322.4" font-size="5.0" font-weight="bold" text-anchor="end">80</text>
<line x1="482.40" y1="358.20" x2="482.40" y2="361.70" stroke="#000" stroke-width="1.2"/>
<line x1="477.20" y1="358.20" x2="487.40" y2="358.20" stroke="#000" stroke-width="1.2"/>
<rect x="473.60" y="361.70" width="17.60" height="45.00" fill="#000"/>
<line x1="507.15" y1="334.30" x2="507.15" y2="336.00" stroke="#000" stroke-width="1.2"/>
<line x1="502.00" y1="334.30" x2="512.20" y2="334.30" stroke="#000" stroke-width="1.2"/>
<rect x="498.60" y="336.60" width="17.10" height="70.10" fill="#fff" stroke="#000" stroke-width="1.2"/>
<line x1="481.90" y1="327.20" x2="506.40" y2="327.20" stroke="#000" stroke-width="1.0"/>
<polygon points="491.50,318.45 492.15,320.21 494.02,320.28 492.55,321.44 493.06,323.24 491.50,322.20 489.94,323.24 490.45,321.44 488.98,320.28 490.85,320.21" fill="#000"/>
<polygon points="496.70,318.45 497.35,320.21 499.22,320.28 497.75,321.44 498.26,323.24 496.70,322.20 495.14,323.24 495.65,321.44 494.18,320.28 496.05,320.21" fill="#000"/>
<line x1="42.00" y1="427.40" x2="42.00" y2="512.80" stroke="#000" stroke-width="1.4"/>
<line x1="39.50" y1="512.10" x2="98.75" y2="512.10" stroke="#000" stroke-width="1.4"/>
<line x1="39.50" y1="512.10" x2="42.00" y2="512.10" stroke="#000" stroke-width="1.4"/>
<text x="39.2" y="514.01" font-size="5.3" font-weight="bold" text-anchor="end">0</text>
<line x1="39.50" y1="505.64" x2="42.00" y2="505.64" stroke="#000" stroke-width="1.4"/>
<text x="39.2" y="507.55" font-size="5.3" font-weight="bold" text-anchor="end">5</text>
<line x1="39.50" y1="499.18" x2="42.00" y2="499.18" stroke="#000" stroke-width="1.4"/>
<text x="39.2" y="501.08" font-size="5.3" font-weight="bold" text-anchor="end">10</text>
<line x1="39.50" y1="492.72" x2="42.00" y2="492.72" stroke="#000" stroke-width="1.4"/>
<text x="39.2" y="494.62" font-size="5.3" font-weight="bold" text-anchor="end">15</text>
<line x1="39.50" y1="486.25" x2="42.00" y2="486.25" stroke="#000" stroke-width="1.4"/>
<text x="39.2" y="488.16" font-size="5.3" font-weight="bold" text-anchor="end">20</text>
<line x1="39.50" y1="479.79" x2="42.00" y2="479.79" stroke="#000" stroke-width="1.4"/>
<text x="39.2" y="481.7" font-size="5.3" font-weight="bold" text-anchor="end">25</text>
<line x1="39.50" y1="473.33" x2="42.00" y2="473.33" stroke="#000" stroke-width="1.4"/>
<text x="39.2" y="475.24" font-size="5.3" font-weight="bold" text-anchor="end">30</text>
<line x1="39.50" y1="466.87" x2="42.00" y2="466.87" stroke="#000" stroke-width="1.4"/>
<text x="39.2" y="468.78" font-size="5.3" font-weight="bold" text-anchor="end">35</text>
<line x1="39.50" y1="460.41" x2="42.00" y2="460.41" stroke="#000" stroke-width="1.4"/>
<text x="39.2" y="462.32" font-size="5.3" font-weight="bold" text-anchor="end">40</text>
<line x1="39.50" y1="453.95" x2="42.00" y2="453.95" stroke="#000" stroke-width="1.4"/>
<text x="39.2" y="455.85" font-size="5.3" font-weight="bold" text-anchor="end">45</text>
<line x1="39.50" y1="447.48" x2="42.00" y2="447.48" stroke="#000" stroke-width="1.4"/>
<text x="39.2" y="449.39" font-size="5.3" font-weight="bold" text-anchor="end">50</text>
<line x1="39.50" y1="441.02" x2="42.00" y2="441.02" stroke="#000" stroke-width="1.4"/>
<text x="39.2" y="442.93" font-size="5.3" font-weight="bold" text-anchor="end">55</text>
<line x1="39.50" y1="434.56" x2="42.00" y2="434.56" stroke="#000" stroke-width="1.4"/>
<text x="39.2" y="436.47" font-size="5.3" font-weight="bold" text-anchor="end">60</text>
<line x1="39.50" y1="428.10" x2="42.00" y2="428.10" stroke="#000" stroke-width="1.4"/>
<text x="39.2" y="430.01" font-size="5.3" font-weight="bold" text-anchor="end">65</text>
<line x1="55.95" y1="432.30" x2="55.95" y2="443.75" stroke="#000" stroke-width="1.2"/>
<line x1="50.50" y1="432.30" x2="61.00" y2="432.30" stroke="#000" stroke-width="1.2"/>
<rect x="45.90" y="443.75" width="20.10" height="68.35" fill="#000"/>
<line x1="84.10" y1="470.50" x2="84.10" y2="474.50" stroke="#000" stroke-width="1.2"/>
<line x1="79.30" y1="470.50" x2="89.40" y2="470.50" stroke="#000" stroke-width="1.2"/>
<rect x="74.70" y="475.10" width="18.80" height="37.00" fill="#fff" stroke="#000" stroke-width="1.2"/>
<line x1="139.80" y1="427.30" x2="139.80" y2="512.80" stroke="#000" stroke-width="1.4"/>
<line x1="137.30" y1="512.10" x2="195.90" y2="512.10" stroke="#000" stroke-width="1.4"/>
<line x1="137.30" y1="512.10" x2="139.80" y2="512.10" stroke="#000" stroke-width="1.4"/>
<text x="136.70000000000002" y="514.19" font-size="5.8" font-weight="bold" text-anchor="end">0</text>
<line x1="137.30" y1="484.07" x2="139.80" y2="484.07" stroke="#000" stroke-width="1.4"/>
<text x="136.70000000000002" y="486.15" font-size="5.8" font-weight="bold" text-anchor="end">1</text>
<line x1="137.30" y1="456.03" x2="139.80" y2="456.03" stroke="#000" stroke-width="1.4"/>
<text x="136.70000000000002" y="458.12" font-size="5.8" font-weight="bold" text-anchor="end">2</text>
<line x1="137.30" y1="428.00" x2="139.80" y2="428.00" stroke="#000" stroke-width="1.4"/>
<text x="136.70000000000002" y="430.09" font-size="5.8" font-weight="bold" text-anchor="end">3</text>
<line x1="153.43" y1="435.00" x2="153.43" y2="440.75" stroke="#000" stroke-width="1.2"/>
<line x1="148.00" y1="435.00" x2="158.30" y2="435.00" stroke="#000" stroke-width="1.2"/>
<rect x="143.75" y="440.75" width="19.35" height="71.35" fill="#000"/>
<line x1="181.57" y1="463.75" x2="181.57" y2="469.25" stroke="#000" stroke-width="1.2"/>
<line x1="176.25" y1="463.75" x2="186.25" y2="463.75" stroke="#000" stroke-width="1.2"/>
<rect x="172.50" y="469.85" width="18.15" height="42.25" fill="#fff" stroke="#000" stroke-width="1.2"/>
<line x1="152.40" y1="427.40" x2="175.80" y2="427.40" stroke="#000" stroke-width="0.8"/>
<polygon points="163.20,419.75 163.85,421.51 165.72,421.58 164.25,422.74 164.76,424.54 163.20,423.50 161.64,424.54 162.15,422.74 160.68,421.58 162.55,421.51" fill="#000"/>
<polygon points="168.80,419.75 169.45,421.51 171.32,421.58 169.85,422.74 170.36,424.54 168.80,423.50 167.24,424.54 167.75,422.74 166.28,421.58 168.15,421.51" fill="#000"/>
<line x1="230.50" y1="427.00" x2="230.50" y2="512.60" stroke="#000" stroke-width="1.4"/>
<line x1="228.00" y1="511.90" x2="286.70" y2="511.90" stroke="#000" stroke-width="1.4"/>
<line x1="228.00" y1="511.90" x2="230.50" y2="511.90" stroke="#000" stroke-width="1.4"/>
<text x="227.4" y="513.92" font-size="5.6" font-weight="bold" text-anchor="end">0</text>
<line x1="228.00" y1="499.87" x2="230.50" y2="499.87" stroke="#000" stroke-width="1.4"/>
<text x="227.4" y="501.89" font-size="5.6" font-weight="bold" text-anchor="end">1</text>
<line x1="228.00" y1="487.84" x2="230.50" y2="487.84" stroke="#000" stroke-width="1.4"/>
<text x="227.4" y="489.86" font-size="5.6" font-weight="bold" text-anchor="end">2</text>
<line x1="228.00" y1="475.81" x2="230.50" y2="475.81" stroke="#000" stroke-width="1.4"/>
<text x="227.4" y="477.83" font-size="5.6" font-weight="bold" text-anchor="end">3</text>
<line x1="228.00" y1="463.79" x2="230.50" y2="463.79" stroke="#000" stroke-width="1.4"/>
<text x="227.4" y="465.8" font-size="5.6" font-weight="bold" text-anchor="end">4</text>
<line x1="228.00" y1="451.76" x2="230.50" y2="451.76" stroke="#000" stroke-width="1.4"/>
<text x="227.4" y="453.77" font-size="5.6" font-weight="bold" text-anchor="end">5</text>
<line x1="228.00" y1="439.73" x2="230.50" y2="439.73" stroke="#000" stroke-width="1.4"/>
<text x="227.4" y="441.74" font-size="5.6" font-weight="bold" text-anchor="end">6</text>
<line x1="228.00" y1="427.70" x2="230.50" y2="427.70" stroke="#000" stroke-width="1.4"/>
<text x="227.4" y="429.72" font-size="5.6" font-weight="bold" text-anchor="end">7</text>
<line x1="245.00" y1="430.40" x2="245.00" y2="438.50" stroke="#000" stroke-width="1.2"/>
<line x1="240.00" y1="430.40" x2="250.40" y2="430.40" stroke="#000" stroke-width="1.2"/>
<rect x="234.80" y="438.50" width="20.40" height="73.40" fill="#000"/>
<line x1="272.95" y1="465.60" x2="272.95" y2="470.20" stroke="#000" stroke-width="1.2"/>
<line x1="267.70" y1="465.60" x2="277.50" y2="465.60" stroke="#000" stroke-width="1.2"/>
<rect x="263.20" y="470.80" width="19.50" height="41.10" fill="#fff" stroke="#000" stroke-width="1.2"/>
<line x1="243.20" y1="423.40" x2="267.20" y2="423.40" stroke="#000" stroke-width="0.7"/>
<polygon points="254.30,415.95 254.95,417.71 256.82,417.78 255.35,418.94 255.86,420.74 254.30,419.70 252.74,420.74 253.25,418.94 251.78,417.78 253.65,417.71" fill="#000"/>
<polygon points="260.10,415.95 260.75,417.71 262.62,417.78 261.15,418.94 261.66,420.74 260.10,419.70 258.54,420.74 259.05,418.94 257.58,417.78 259.45,417.71" fill="#000"/>
<text x="299.4" y="474.8" font-size="12.8" font-weight="normal" text-anchor="start">Day 14</text>
<text x="458.2" y="416" font-size="6.57" font-weight="bold" letter-spacing="0.275" stroke="#000" stroke-width="0.2" transform="rotate(-90 458.2 416)">% apoptotic splenocytes (x10<tspan dy="-3.28" font-size="4.33">-6</tspan><tspan dy="3.28" font-size="6.57">)</tspan></text>
<text x="28.8" y="504.6" font-size="6.41" font-weight="bold" letter-spacing="0.246" stroke="#000" stroke-width="0.2" transform="rotate(-90 28.8 504.6)"># cells/spleen (x10<tspan dy="-3.20" font-size="4.23">-6</tspan><tspan dy="3.20" font-size="6.41">)</tspan></text>
<text x="128.0" y="505.6" font-size="6.38" font-weight="bold" letter-spacing="0.261" stroke="#000" stroke-width="0.2" transform="rotate(-90 128.0 505.6)"># CD4 T/spleen (x10<tspan dy="-3.19" font-size="4.21">-6</tspan><tspan dy="3.19" font-size="6.38">)</tspan></text>
<text x="219.5" y="506.3" font-size="6.55" font-weight="bold" letter-spacing="0.268" stroke="#000" stroke-width="0.2" transform="rotate(-90 219.5 506.3)"># CD8 T/spleen (x10<tspan dy="-3.27" font-size="4.32">-6</tspan><tspan dy="3.27" font-size="6.55">)</tspan></text>
</g>
</svg>
</body></html>
